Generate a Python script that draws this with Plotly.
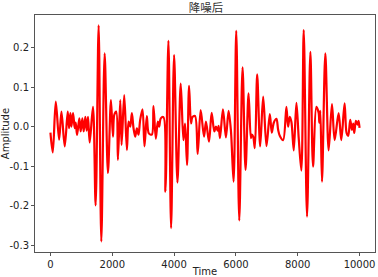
import plotly.graph_objects as go

time = [0, 75, 172, 280, 355, 462, 559, 602, 645, 677, 731, 785, 817, 860, 935, 978,
        1032, 1075, 1129, 1172, 1215, 1269, 1376, 1462, 1559, 1645, 1753, 1860, 1957,
        2022, 2065, 2129, 2183, 2258, 2301, 2387, 2473, 2527, 2581, 2634, 2688, 2742,
        2796, 2849, 2903, 2978, 3043, 3118, 3183, 3280, 3333, 3409, 3473, 3516, 3570,
        3656, 3720, 3817, 3903, 4000, 4108, 4215, 4301, 4355, 4419, 4484, 4548, 4591,
        4677, 4763, 4860, 4968, 5032, 5129, 5215, 5301, 5355, 5409, 5441, 5484, 5581,
        5677, 5763, 5839, 5925, 6011, 6108, 6215, 6312, 6409, 6484, 6516, 6559, 6613,
        6688, 6785, 6882, 6989, 7097, 7161, 7226, 7312, 7366, 7419, 7527, 7634, 7688,
        7742, 7796, 7871, 7957, 8032, 8118, 8194, 8301, 8409, 8495, 8602, 8677, 8699,
        8731, 8785, 8893, 9000, 9108, 9194, 9323, 9409, 9516, 9581, 9634, 9699, 9753,
        9796, 9828, 9882, 9935, 9968, 10000]

amplitude = [-0.015, -0.065, 0.063, -0.033, 0.038, -0.05, 0.038, -0.004, 0.034, 0.0,
             0.034, -0.004, 0.01, -0.021, 0.021, -0.012, 0.021, -0.012, 0.025, -0.01,
             0.025, -0.04, 0.05, -0.199, 0.256, -0.29, 0.185, -0.117, 0.067, -0.025,
             0.03, 0.038, -0.084, 0.067, -0.046, 0.08, -0.059, 0.013, 0.0, 0.034, -0.004,
             -0.025, -0.004, -0.02, 0.017, 0.044, -0.05, 0.027, -0.017, -0.02, 0.052,
             -0.03, 0.013, 0.0, 0.021, 0.024, -0.164, 0.217, -0.256, 0.181, -0.141, 0.109,
             -0.034, 0.008, -0.097, 0.103, 0.008, 0.024, 0.027, -0.069, 0.042, -0.025,
             0.013, -0.038, 0.035, -0.012, 0.0, -0.01, 0.002, -0.029, 0.044, -0.027, 0.04,
             -0.01, -0.139, 0.242, -0.237, 0.15, -0.109, 0.084, -0.029, -0.02, -0.025,
             -0.054, 0.132, -0.05, 0.076, -0.049, 0.032, -0.015, 0.01, 0.02, -0.008,
             -0.023, -0.034, 0.05, 0.0, 0.025, 0.012, -0.06, 0.06, -0.029, -0.111, 0.244,
             -0.227, 0.189, -0.101, 0.05, 0.035, 0.01, 0.04, -0.139, 0.185, -0.06, 0.057,
             -0.034, 0.034, -0.034, 0.059, -0.016, -0.023, 0.017, -0.008, 0.008, -0.016,
             0.015, 0.005, 0.015, -0.003]

xticks = [0, 2000, 4000, 6000, 8000, 10000]
yticks = [-0.3, -0.2, -0.1, 0.0, 0.1, 0.2]

fig = go.Figure()
fig.add_trace(go.Scatter(x=time, y=amplitude, mode="lines",
                         line=dict(color="#ff0000", width=2.2, shape="spline", smoothing=0.9),
                         showlegend=False, hoverinfo="skip"))

axis_common = dict(showgrid=False, zeroline=False, showline=True, linecolor="#555555",
                   linewidth=1, mirror=True, ticks="outside", ticklen=3, tickcolor="#555555",
                   automargin=False,
                   tickfont=dict(family="DejaVu Sans", size=10, color="#222222"))

fig.update_layout(
    width=378, height=277,
    margin=dict(l=35, r=3, t=15, b=25),
    paper_bgcolor="white", plot_bgcolor="white",
    title=dict(text="降噪后", x=0.545, xanchor="center", y=0.972, yanchor="middle",
               font=dict(family="Noto Sans CJK SC", size=11.5, color="#333333")),
    xaxis=dict(range=[-500, 10500], tickvals=xticks, ticktext=[str(v) for v in xticks],
               title=dict(text="Time", standoff=2,
                          font=dict(family="DejaVu Sans", size=10, color="#222222")),
               **axis_common),
    yaxis=dict(range=[-0.3165, 0.282], tickvals=yticks,
               ticktext=["%.1f" % v for v in yticks],
               title=dict(text="Amplitude", standoff=3,
                          font=dict(family="DejaVu Sans", size=10, color="#222222")),
               **axis_common),
)

fig.write_html("out.html", config={"displayModeBar": False},
               post_script="document.body.style.margin='0';")
